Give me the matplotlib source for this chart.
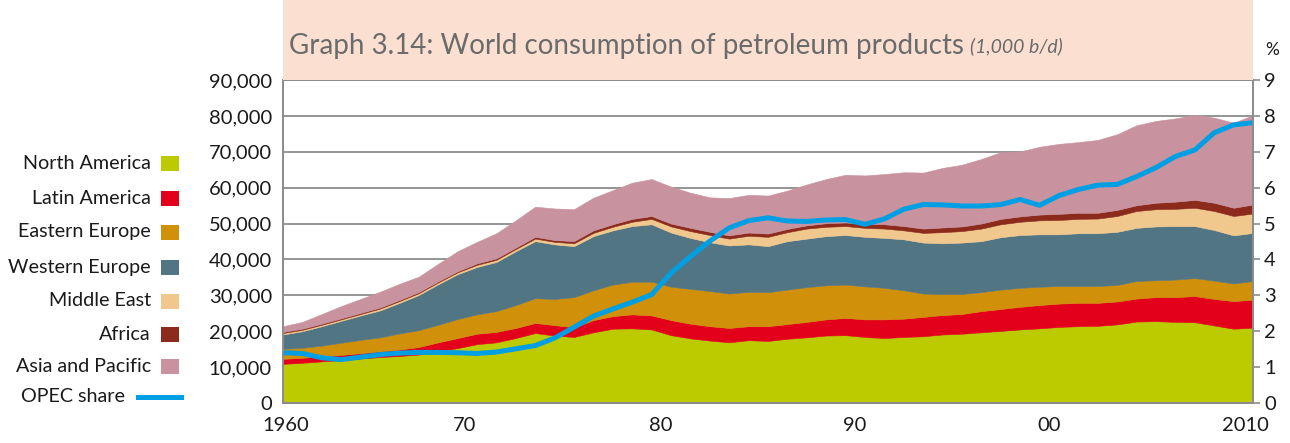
import numpy as np
import matplotlib.pyplot as plt
from matplotlib.patches import Rectangle
from matplotlib.lines import Line2D
from matplotlib.ticker import FuncFormatter

# consumption by region, 1,000 b/d, 1960-2010
years = np.arange(1960, 2011)

north_america = [10900, 11200, 11600, 12000, 12400, 12800, 13100, 13500, 14400, 15300,
                 16400, 16900, 18100, 19500, 18800, 18400, 19700, 20700, 20800, 20500,
                 18900, 18000, 17400, 16900, 17500, 17300, 17900, 18300, 18800, 18900,
                 18400, 18100, 18400, 18600, 19100, 19300, 19700, 20100, 20500, 20800,
                 21200, 21400, 21500, 21900, 22700, 22800, 22600, 22500, 21600, 20700, 21000]
latin_america = [1400, 1400, 1400, 1400, 1500, 1600, 1800, 2100, 2500, 2800,
                 2900, 2900, 2800, 2800, 2900, 2700, 3400, 3500, 3900, 3900,
                 4200, 4100, 4000, 4000, 3900, 4100, 4100, 4300, 4500, 4800,
                 4900, 5200, 5100, 5400, 5400, 5500, 5900, 6100, 6300, 6500,
                 6500, 6500, 6400, 6400, 6400, 6700, 6900, 7300, 7400, 7700, 7800]
eastern_europe = [2800, 2800, 3000, 3400, 3700, 3900, 4500, 4700, 4900, 5300,
                  5400, 5800, 6400, 6900, 7300, 8400, 8300, 8800, 9100, 9400,
                  9300, 9700, 9800, 9600, 9600, 9500, 9600, 9700, 9500, 9300,
                  9200, 8800, 7900, 6500, 5900, 5600, 5300, 5400, 5300, 5100,
                  4900, 4700, 4700, 4600, 4900, 4700, 4900, 5000, 5100, 4900, 5200]
western_europe = [4000, 4600, 5400, 6100, 6800, 7500, 8500, 9800, 11300, 12500,
                  13200, 13700, 15000, 15900, 15200, 14200, 15100, 15100, 15500, 16000,
                  15100, 14200, 13600, 13400, 13200, 12800, 13500, 13500, 13700, 13800,
                  13800, 13900, 14200, 14200, 14100, 14300, 14200, 14600, 14700, 14600,
                  14400, 14700, 14700, 14800, 14800, 15000, 14900, 14500, 14100, 13400, 13400]
middle_east = [400, 400, 400, 400, 400, 500, 500, 500, 500, 500,
               600, 600, 600, 700, 700, 800, 900, 1000, 1200, 1500,
               1700, 1900, 2000, 1900, 2400, 2600, 2500, 2800, 2600, 2500,
               2500, 2600, 2500, 2700, 3100, 3200, 3500, 3600, 3700, 3900,
               4000, 4000, 4100, 4400, 4700, 4800, 4800, 5100, 5300, 5400, 5400]
africa = [300, 300, 300, 300, 300, 300, 300, 300, 300, 300,
          400, 400, 400, 500, 500, 600, 700, 700, 800, 800,
          800, 900, 900, 900, 900, 900, 900, 900, 1000, 1000,
          1100, 1200, 1200, 1200, 1300, 1300, 1400, 1500, 1500, 1600,
          1700, 1700, 1600, 1700, 1600, 1800, 2000, 2200, 2300, 2300, 2500]
asia_pacific = [1600, 1900, 2700, 3400, 3900, 4400, 4500, 4300, 4900, 5600,
                6000, 7000, 7600, 8400, 8800, 8900, 9100, 9500, 10100, 10300,
                10300, 9800, 9600, 10400, 10500, 10600, 10700, 11400, 12300, 13300,
                13500, 14000, 15000, 15600, 16600, 17200, 18000, 18600, 18100, 18900,
                19500, 19700, 20300, 21100, 22300, 22800, 23200, 23700, 23700, 23700, 24900]

# OPEC share, %
opec_share = [1.40, 1.38, 1.26, 1.21, 1.28, 1.35, 1.39, 1.41, 1.41, 1.40,
              1.38, 1.42, 1.51, 1.60, 1.81, 2.11, 2.42, 2.62, 2.81, 3.02,
              3.62, 4.08, 4.51, 4.88, 5.08, 5.16, 5.07, 5.06, 5.10, 5.11,
              4.98, 5.13, 5.40, 5.53, 5.52, 5.49, 5.49, 5.53, 5.67, 5.51,
              5.78, 5.95, 6.07, 6.09, 6.31, 6.56, 6.87, 7.05, 7.53, 7.75, 7.81]

regions = ["North America", "Latin America", "Eastern Europe", "Western Europe",
           "Middle East", "Africa", "Asia and Pacific"]
colors = ["#bccb00", "#e2001a", "#d0900a", "#527584", "#f0c88e", "#8c2a1c", "#c8939f"]
opec_color = "#009fe3"

xtick_labels = ["1960", "70", "80", "90", "00", "2010"]
xtick_pos = [1960.15, 1969.35, 1979.45, 1989.45, 1999.5, 2009.6]

font = "Lato"
title_font = "Lato"
text_color = "#1a1a1a"
grid_color = "#8c8c8c"

W, H = 1290, 443
fig = plt.figure(figsize=(W / 100, H / 100), dpi=100)
ax = fig.add_axes([283 / W, 1 - 403 / H, 970 / W, 323 / H])

# stacked areas
series = [north_america, latin_america, eastern_europe, western_europe,
          middle_east, africa, asia_pacific]
bottom = np.zeros(len(years))
for vals, c in zip(series, colors):
    top = bottom + np.array(vals)
    ax.fill_between(years, bottom, top, facecolor=c, edgecolor=c, linewidth=0.4)
    bottom = top

ax.set_xlim(1960, 2010)
ax.set_ylim(0, 90000)
ax.set_yticks(np.arange(0, 90001, 10000))
ax.yaxis.set_major_formatter(FuncFormatter(lambda v, p: f"{int(v):,}"))
ax.set_xticks(xtick_pos)
ax.set_xticklabels(xtick_labels)
ax.set_axisbelow(True)
ax.grid(axis="y", color=grid_color, linewidth=1.3)
ax.tick_params(axis="y", length=0, pad=8, labelsize=14.5, labelcolor=text_color)
ax.tick_params(axis="x", length=0, pad=10, labelsize=14.5, labelcolor=text_color)
for lab in ax.get_xticklabels() + ax.get_yticklabels():
    lab.set_family(font)
for s in ax.spines.values():
    s.set_color(grid_color)
    s.set_linewidth(1.3)

# OPEC share on right axis
ax2 = ax.twinx()
ax2.plot(years, opec_share, color=opec_color, linewidth=3.6, solid_capstyle="butt")
ax2.set_ylim(0, 9)
ax2.set_yticks(range(0, 10))
ax2.tick_params(axis="y", length=5, width=1.2, color=grid_color, pad=3,
                labelsize=14.5, labelcolor=text_color)
for lab in ax2.get_yticklabels():
    lab.set_family(font)
for s in ax2.spines.values():
    s.set_color(grid_color)
    s.set_linewidth(1.3)
fig.text(1272 / W, 1 - 50 / H, "%", ha="center", va="center", fontsize=12.5,
         family=font, color=text_color)

# title box
fig.patches.append(Rectangle((283 / W, 1 - 80 / H), 970 / W, 80 / H,
                             transform=fig.transFigure, facecolor="#fbe0d1",
                             edgecolor="none", zorder=0))
t = fig.text(289 / W, 1 - 46 / H, "Graph 3.14: World consumption of petroleum products",
             ha="left", va="center", fontsize=20, family=title_font, color="#6b6b6b")
fig.canvas.draw()
bb = t.get_window_extent()
fig.text(bb.x1 / W + 6 / W, 1 - 46 / H, "(1,000 b/d)", ha="left", va="center",
         fontsize=14, style="italic", family=title_font, color="#6b6b6b")

# legend, drawn by hand on the left
legend_y = [163, 198, 232, 267, 301, 334, 366]
for name, c, yy in zip(regions, colors, legend_y):
    fig.text(151 / W, 1 - yy / H, name, ha="right", va="center", fontsize=14.2,
             family=font, color=text_color)
    fig.patches.append(Rectangle((161 / W, 1 - (yy + 8) / H), 18 / W, 15 / H,
                                 transform=fig.transFigure, facecolor=c,
                                 edgecolor="none"))
fig.text(125 / W, 1 - 397 / H, "OPEC share", ha="right", va="center", fontsize=14.2,
         family=font, color=text_color)
fig.lines.append(Line2D([138 / W, 181 / W], [1 - 397 / H, 1 - 397 / H],
                        transform=fig.transFigure, color=opec_color, linewidth=3.6))

fig.savefig("out.png", dpi=100)
